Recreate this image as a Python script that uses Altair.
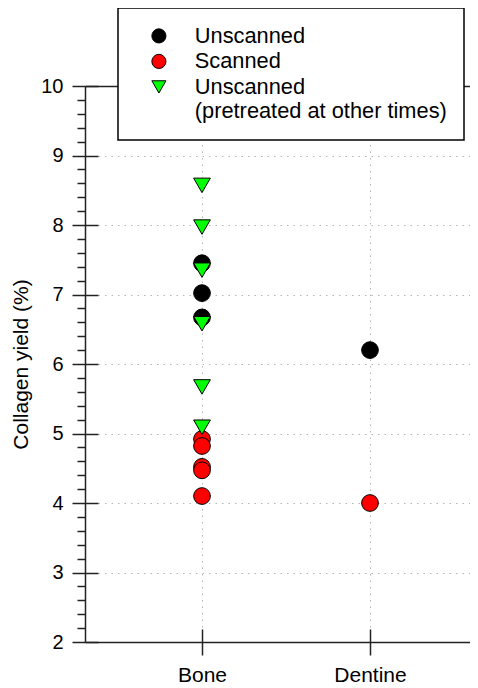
import altair as alt
import pandas as pd

FONT = "Liberation Sans"

# ---- data ----
tissue = ["Bone", "Bone", "Bone", "Dentine",
          "Bone", "Bone", "Bone", "Bone", "Bone", "Dentine",
          "Bone", "Bone", "Bone", "Bone", "Bone", "Bone"]
collagen_yield = [7.45, 7.02, 6.67, 6.20,
                  4.92, 4.82, 4.52, 4.47, 4.10, 4.00,
                  8.57, 7.97, 7.35, 6.58, 5.67, 5.09]
group = ["Unscanned"] * 4 + ["Scanned"] * 6 + ["Unscanned (pretreated at other times)"] * 6

groups = ["Unscanned", "Scanned", "Unscanned (pretreated at other times)"]
group_colors = ["#000000", "#FF0000", "#00FF00"]
group_outline = ["#000000", "#000000", "#000000"]
group_shapes = ["circle", "circle", "triangle-down"]

x_categories = ["Bone", "Dentine"]
y_major = [2, 3, 4, 5, 6, 7, 8, 9, 10]
y_minor = [round(2 + 0.2 * i, 1) for i in range(41) if i % 5 != 0]

df = pd.DataFrame({"tissue": tissue, "collagen_yield": collagen_yield, "group": group})

W, H = 385, 556
AX = "#222222"
GRID = "#b4b4b4"

x_scale = alt.Scale(domain=[0.3036, 0.3036 + W / 168], nice=False, zero=False)
y_scale = alt.Scale(domain=[2, 10], nice=False, zero=False)

x_label_expr = f"datum.value == 1 ? '{x_categories[0]}' : '{x_categories[1]}'"
legend_label_expr = (
    "datum.label == 'Unscanned (pretreated at other times)' ? "
    "['Unscanned', '(pretreated at other times)\u00a0\u00a0\u00a0\u00a0'] : datum.label"
)

legend = alt.Legend(
    title=None, orient="none", legendX=33, legendY=-78, padding=17,
    strokeColor="black", fillColor="white", cornerRadius=0,
    symbolSize=200, symbolStrokeColor="black", symbolStrokeWidth=1,
    symbolOffset=13, labelOffset=25, labelFontSize=21.8, labelFont=FONT,
    labelColor="black", labelLimit=500, rowPadding=2.5,
    labelExpr=legend_label_expr, zindex=1,
)

base = alt.Chart(df).transform_calculate(
    xpos=f"datum.tissue == '{x_categories[0]}' ? 1 : 2"
)

main = base.mark_point(filled=True, size=280, strokeWidth=1, opacity=1).encode(
    x=alt.X("xpos:Q", scale=x_scale, axis=alt.Axis(
        orient="bottom", values=[1, 2], labelExpr=x_label_expr, title=None,
        tickSize=13, tickColor=AX, tickWidth=1.5, domainColor=AX, domainWidth=1.5,
        grid=True, gridColor=GRID, gridDash=[1.5, 5], gridWidth=1,
        labelFont=FONT, labelFontSize=21, labelColor="black",
        labelPadding=26, labelBaseline="alphabetic", zindex=0)),
    y=alt.Y("collagen_yield:Q", scale=y_scale, axis=alt.Axis(
        orient="left", values=y_major, tickSize=13, tickColor=AX, tickWidth=1.5,
        domainColor=AX, domainWidth=1.5,
        grid=True, gridColor=GRID, gridDash=[1.5, 5], gridWidth=1,
        labelFont=FONT, labelFontSize=20, labelColor="black", labelPadding=9,
        title="Collagen yield (%)", titleFont=FONT, titleFontSize=21,
        titleFontWeight="normal", titleColor="black",
        titleX=-58, titleY=278, titleAngle=270, titleAlign="center",
        titleBaseline="alphabetic", zindex=0)),
    fill=alt.Fill("group:N", scale=alt.Scale(domain=groups, range=group_colors), legend=legend),
    stroke=alt.Stroke("group:N", scale=alt.Scale(domain=groups, range=group_outline), legend=legend),
    shape=alt.Shape("group:N", scale=alt.Scale(domain=groups, range=group_shapes), legend=legend),
)

minor = base.mark_point(opacity=0).encode(
    x=alt.X("xpos:Q", scale=x_scale, axis=alt.Axis(
        orient="top", offset=-H, values=[1, 2], tickSize=13, tickColor=AX, tickWidth=1.5,
        labels=False, domain=False, grid=False, title=None)),
    y=alt.Y("collagen_yield:Q", scale=y_scale, axis=alt.Axis(
        orient="left", values=y_minor, tickSize=8, tickColor=AX, tickWidth=1.5,
        labels=False, domain=False, grid=False, title=None)),
)

inner = base.mark_point(opacity=0).encode(
    x=alt.X("xpos:Q", scale=x_scale, axis=alt.Axis(
        orient="top", offset=0, ticks=False, labels=False, domain=True,
        domainColor=AX, domainWidth=1.5, grid=False, title=None)),
    y=alt.Y("collagen_yield:Q", scale=y_scale, axis=alt.Axis(
        orient="right", offset=-W, values=y_major, tickSize=13, tickColor=AX, tickWidth=1.5,
        labels=False, domain=False, grid=False, title=None)),
)

chart = alt.layer(main, minor, inner).resolve_scale(
    x="independent", y="independent"
).properties(
    width=W, height=H,
    padding={"left": 77, "top": 78, "right": 0, "bottom": 44},
    autosize=alt.AutoSizeParams(type="none"),
).configure_view(stroke=None).configure_legend(strokeWidth=1.5)

chart.save("out.html", embed_options={"renderer": "svg", "actions": False})
